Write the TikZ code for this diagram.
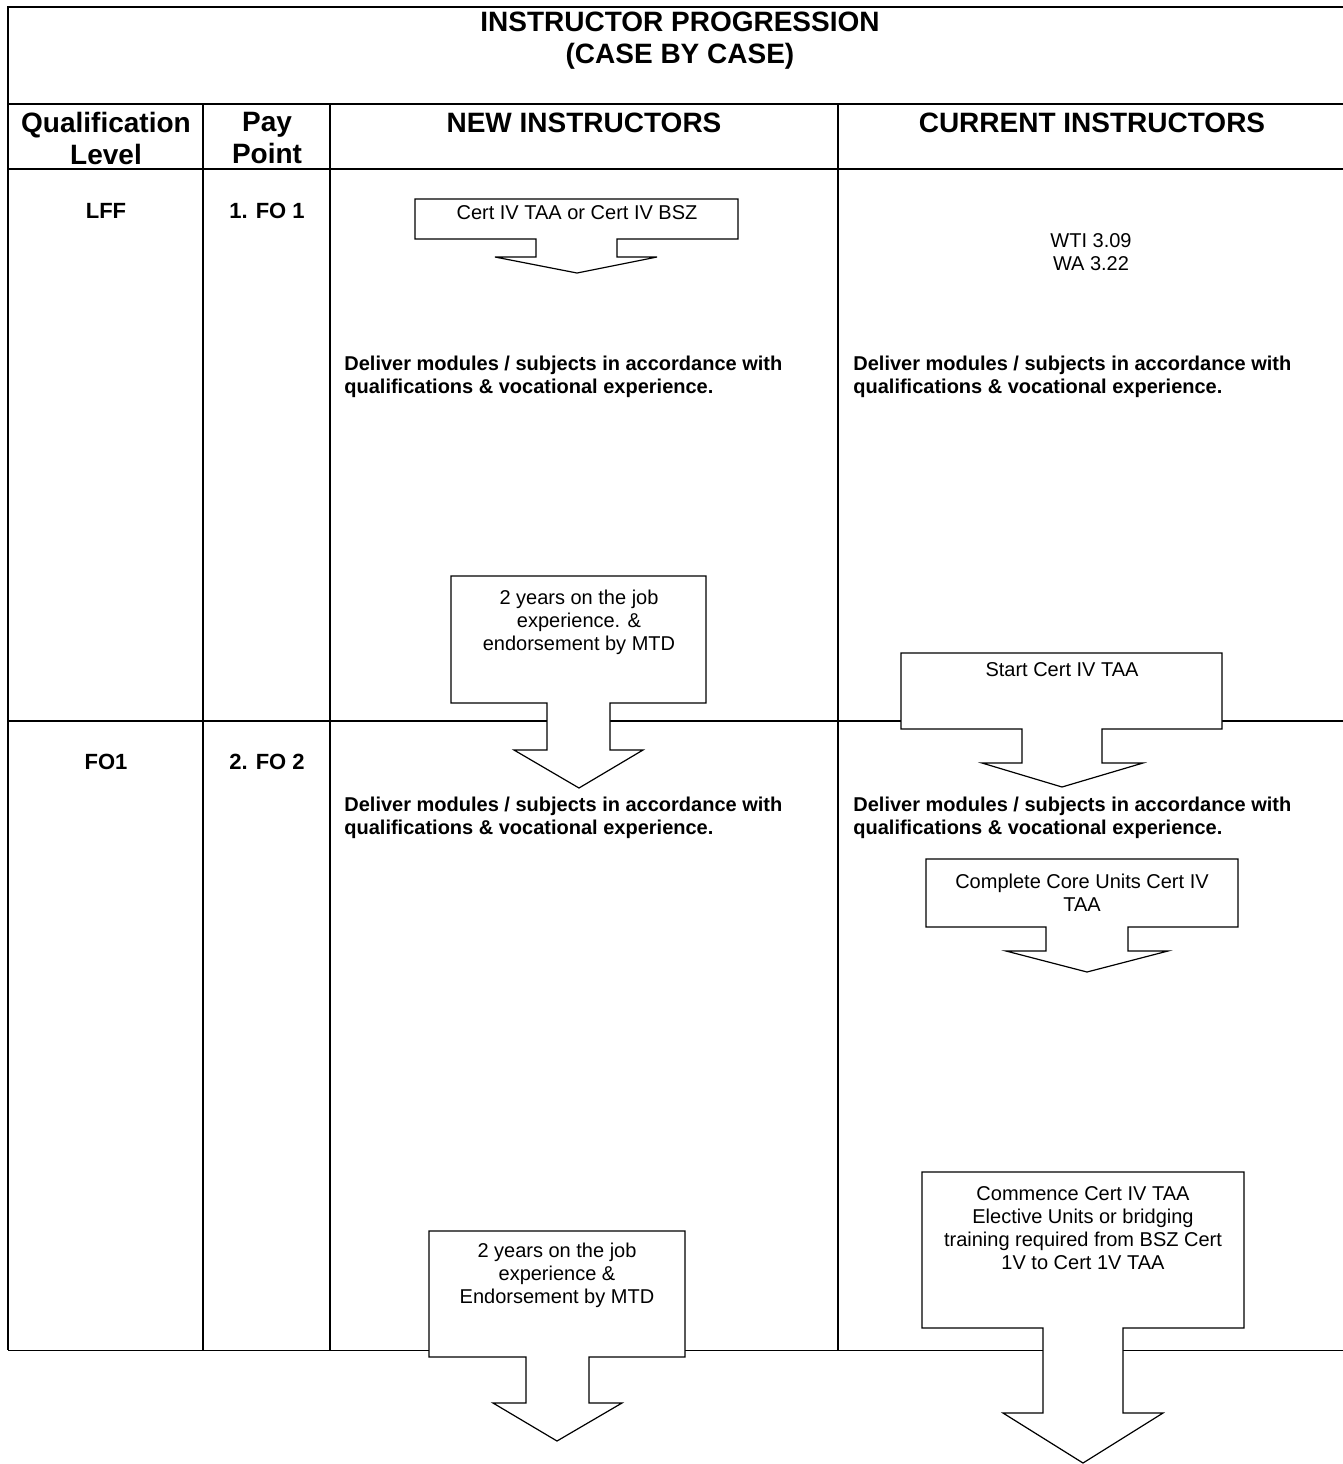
\documentclass[tikz,border=0pt]{standalone}
\usepackage{fontspec}
\setmainfont{Liberation Sans}

\begin{document}
\begin{tikzpicture}[x=0.5pt, y=-0.5pt,
  every node/.style={inner sep=0pt},
  grid/.style={line width=1pt},
  callout/.style={draw, fill=white, line width=0.6pt, line join=miter},
  head/.style={font=\fontsize{14}{16}\selectfont\bfseries, align=center},
  cell/.style={font=\fontsize{11}{13}\selectfont\bfseries},
  info/.style={font=\fontsize{10}{11.5}\selectfont, align=center},
  deliver/.style={font=\fontsize{10}{11.5}\selectfont\bfseries, align=left, anchor=west}]

\useasboundingbox (0,0) rectangle (1343,1464);

% table frame
\draw[grid] (1343,7) -- (8,7) -- (8,1350);
\draw[grid] (8,104) -- (1343,104);
\draw[grid] (8,169) -- (1343,169);
\draw[grid] (8,721) -- (1343,721);
\draw[line width=0.5pt] (8,1350) -- (1343,1350);
\foreach \x in {203,330,838}
  \draw[grid] (\x,104) -- (\x,1350);

% headings
\node[head] (title) at (680,41) {INSTRUCTOR PROGRESSION\\(CASE BY CASE)};
\node[head] (qual) at (106,138) {Qualification\\Level};
\node[head] (pay) at (267,138) {Pay\\Point};
\node[head] (new) at (584,123) {NEW INSTRUCTORS};
\node[head] (cur) at (1092,123) {CURRENT INSTRUCTORS};

\node[cell] (lff) at (106,211) {LFF};
\node[cell] (fo1pt) at (267,211) {1. FO 1};
\node[cell] (fo1) at (106,762) {FO1};
\node[cell] (fo2pt) at (267,762) {2. FO 2};

% new instructors
\draw[callout] (415,199) -- (738,199) -- (738,239) -- (617,239) -- (617,257) -- (657,257)
  -- (577,273) -- (495,257) -- (536,257) -- (536,239) -- (415,239) -- cycle;
\node[info] (cert) at (577,213) {Cert IV TAA or Cert IV BSZ};
\node[deliver] (newa) at (344,377) {Deliver modules / subjects in accordance with\\qualifications \& vocational experience.};

\draw[callout] (451,576) -- (706,576) -- (706,703) -- (610,703) -- (610,750) -- (643,750)
  -- (579,788) -- (514,750) -- (547,750) -- (547,703) -- (451,703) -- cycle;
\node[info] (yearsa) at (579,622) {2 years on the job\\experience. \&\\endorsement by MTD};
\node[deliver] (newb) at (344,818) {Deliver modules / subjects in accordance with\\qualifications \& vocational experience.};

\draw[callout] (429,1231) -- (685,1231) -- (685,1357) -- (589,1357) -- (589,1403) -- (622,1403)
  -- (557,1441) -- (493,1403) -- (526,1403) -- (526,1357) -- (429,1357) -- cycle;
\node[info] (yearsb) at (557,1275) {2 years on the job\\experience \&\\Endorsement by MTD};

% current instructors
\node[info] (wti) at (1091,252) {WTI 3.09\\WA 3.22};
\node[deliver] (cura) at (853,377) {Deliver modules / subjects in accordance with\\qualifications \& vocational experience.};

\draw[callout] (901,653) -- (1222,653) -- (1222,729) -- (1102,729) -- (1102,763) -- (1143,763)
  -- (1062,787) -- (982,763) -- (1022,763) -- (1022,729) -- (901,729) -- cycle;
\node[info] (start) at (1062,670) {Start Cert IV TAA};
\node[deliver] (curb) at (853,818) {Deliver modules / subjects in accordance with\\qualifications \& vocational experience.};

\draw[callout] (926,859) -- (1238,859) -- (1238,927) -- (1128,927) -- (1128,951) -- (1168,951)
  -- (1087,972) -- (1006,951) -- (1046,951) -- (1046,927) -- (926,927) -- cycle;
\node[info] (core) at (1082,892.5) {Complete Core Units Cert IV\\TAA};

\draw[callout] (922,1172) -- (1244,1172) -- (1244,1328) -- (1123,1328) -- (1123,1413) -- (1163,1413)
  -- (1083,1463) -- (1003,1413) -- (1043,1413) -- (1043,1328) -- (922,1328) -- cycle;
\node[info] (commence) at (1083,1228.5) {Commence Cert IV TAA\\Elective Units or bridging\\training required from BSZ Cert\\1V to Cert 1V TAA};
\end{tikzpicture}
\end{document}
